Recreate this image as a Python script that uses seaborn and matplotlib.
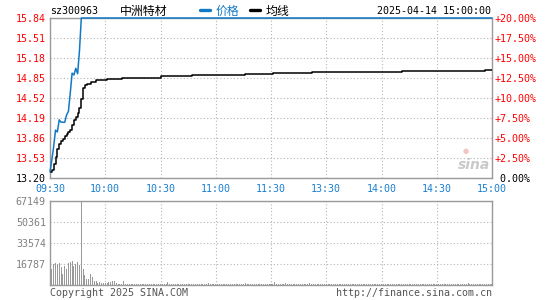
import matplotlib
matplotlib.use("Agg")
import matplotlib.pyplot as plt
import seaborn as sns
from matplotlib.lines import Line2D

# ---------------- data ----------------
stock_code = "sz300963"
stock_name = "中洲特材"
timestamp = "2025-04-14 15:00:00"
base_price = 13.20

price_ticks = [13.20, 13.53, 13.86, 14.19, 14.52, 14.85, 15.18, 15.51, 15.84]
pct_ticks = [0.0, 2.5, 5.0, 7.5, 10.0, 12.5, 15.0, 17.5, 20.0]
vol_ticks = [16787, 33574, 50361, 67149]
time_pos = [0, 30, 60, 90, 120, 150, 180, 210, 240]
time_labels = ["09:30", "10:00", "10:30", "11:00", "11:30",
               "13:30", "14:00", "14:30", "15:00"]

# price (minute index from 09:30, trading minutes only)
price_min = [0, 1, 2, 3, 4, 5, 6, 7, 8, 9, 10, 11, 12, 13, 14, 15, 16, 17, 240]
price_val = [13.30, 13.50, 13.72, 13.99, 13.96, 14.16, 14.12, 14.12, 14.12,
             14.24, 14.30, 14.60, 14.93, 14.90, 15.01, 14.92, 15.30, 15.84,
             15.84]

# average price line
avg_min = [0, 1, 2, 3, 4, 5, 6, 7, 8, 9, 10, 11, 12, 13, 14, 15, 16, 17, 18,
           19, 20, 22, 25, 31, 39, 60, 77, 106, 121, 142, 191, 236, 240]
avg_val = [13.30, 13.33, 13.43, 13.55, 13.68, 13.76, 13.81, 13.85, 13.89,
           13.93, 13.96, 14.00, 14.08, 14.15, 14.21, 14.27, 14.35, 14.50,
           14.68, 14.73, 14.75, 14.78, 14.81, 14.83, 14.855, 14.883, 14.90,
           14.911, 14.927, 14.944, 14.96, 14.977, 14.977]

# volume per minute (241 minutes)
volume = [
    3500, 12500, 17000, 17500, 16500, 17800, 14400, 9000, 15200, 12500,
    17800, 18600, 19200, 15200, 16500, 18600, 16000, 67149, 13000, 8000,
    4500, 4500, 8500, 6400, 3200, 3200, 1900, 2600, 1900, 1300,
    1900, 1300, 2400, 2600, 3200, 3500, 1300, 800, 800, 600,
    3200, 800, 600, 700, 500, 900, 600, 800, 700, 500,
    600, 900, 700, 500, 800, 600, 700, 1000, 600, 500,
    700, 800, 600, 900, 2100, 700, 500, 600, 800, 700,
    600, 500, 900, 700, 600, 800, 500, 700, 600, 900,
    600, 700, 500, 800, 700, 900, 1300, 600, 500, 700,
    800, 600, 700, 500, 600, 900, 700, 600, 800, 500,
    700, 600, 800, 900, 700, 1000, 1700, 800, 600, 700,
    500, 900, 600, 700, 800, 500, 600, 700, 900, 600,
    800, 700, 2500, 900, 700, 600, 800, 700, 1300, 600,
    500, 700, 800, 600, 900, 700, 500, 600, 800, 700,
    600, 1700, 800, 700, 500, 600, 900, 700, 600, 800,
    500, 700, 600, 900, 700, 600, 800, 500, 700, 600,
    800, 700, 600, 900, 500, 700, 600, 800, 700, 500,
    900, 600, 700, 800, 600, 500, 700, 900, 600, 700,
    500, 800, 700, 600, 900, 700, 600, 500, 800, 700,
    600, 900, 500, 700, 800, 600, 700, 500, 900, 600,
    700, 800, 600, 500, 900, 700, 600, 800, 700, 500,
    600, 900, 700, 800, 600, 500, 700, 600, 900, 800,
    600, 700, 500, 800, 900, 700, 600, 1700, 800, 600,
    700, 500, 900, 700, 600, 800, 700, 600, 900, 800,
    1100,
]
vol_min = list(range(len(volume)))

# ---------------- style ----------------
sns.set_theme(style="white")
plt.rcParams["font.family"] = ["DejaVu Sans Mono", "Noto Sans CJK SC"]

BLUE = "#1279c6"
TIME_BLUE = "#1a7fd0"
RED = "#ff0000"
SPINE = "#9a9a9a"
GRID = "#b4b4b4"
FS = 7.2

W, H = 545, 300


def fx(px):
    return px / W


def fy(py):
    return 1 - py / H


fig = plt.figure(figsize=(W / 100, H / 100), dpi=100)
fig.patch.set_facecolor("white")

ax = fig.add_axes([fx(50), fy(178), 442 / W, 160 / H])
axv = fig.add_axes([fx(50), fy(285), 442 / W, 84 / H])

grid_kw = dict(color=GRID, linestyle=(0, (1, 2)), linewidth=0.8)

for a in (ax, axv):
    a.set_facecolor("white")
    a.set_xlim(0, 240)
    for s in a.spines.values():
        s.set_color(SPINE)
        s.set_linewidth(1.0)
    a.tick_params(length=0)
    a.set_axisbelow(True)

# ---- main price panel ----
ax.set_ylim(price_ticks[0], price_ticks[-1])
ax.set_yticks(price_ticks)
ax.set_yticklabels([f"{v:.2f}" for v in price_ticks], fontsize=FS)
for lbl, v in zip(ax.get_yticklabels(), price_ticks):
    lbl.set_color("black" if abs(v - base_price) < 1e-9 else RED)
ax.tick_params(axis="y", pad=3)
ax.set_xticks(time_pos)
ax.set_xticklabels(time_labels, fontsize=FS, color=TIME_BLUE)
ax.tick_params(axis="x", pad=4)
ax.grid(True, **grid_kw)

sns.lineplot(x=avg_min, y=avg_val, ax=ax, color="black", linewidth=1.1,
             drawstyle="steps-post", zorder=3)
sns.lineplot(x=price_min, y=price_val, ax=ax, color=BLUE, linewidth=1.1,
             clip_on=False, zorder=4)
ax.set_xlabel("")
ax.set_ylabel("")
ax.set_xlim(0, 240)
ax.set_ylim(price_ticks[0], price_ticks[-1])

axr = ax.twinx()
axr.set_ylim(pct_ticks[0], pct_ticks[-1])
axr.set_yticks(pct_ticks)
axr.set_yticklabels([(" 0.00%" if p == 0 else f"+{p:.2f}%") for p in pct_ticks],
                    fontsize=FS)
for lbl, p in zip(axr.get_yticklabels(), pct_ticks):
    lbl.set_color("black" if p == 0 else RED)
axr.tick_params(length=0, pad=1.5)
for s in axr.spines.values():
    s.set_visible(False)
axr.grid(False)

# ---- volume panel ----
axv.bar(vol_min, volume, width=0.55, color="#999999", linewidth=0,
        antialiased=False, zorder=2)
axv.set_ylim(0, vol_ticks[-1])
axv.set_yticks(vol_ticks)
axv.set_yticklabels([str(v) for v in vol_ticks], fontsize=FS, color="#808080")
axv.tick_params(axis="y", pad=3)
axv.set_xticks(time_pos)
axv.set_xticklabels([])
axv.grid(True, **grid_kw)

# ---- header ----
ty = fy(11)
fig.text(fx(50), ty, stock_code, fontsize=FS, color="black", ha="left", va="center")
fig.text(fx(120), ty, stock_name, fontsize=8.6, color="black", ha="left",
         va="center", family=["Noto Sans CJK SC"])
fig.add_artist(Line2D([fx(200), fx(210)], [fy(10), fy(10)],
                      transform=fig.transFigure, color=BLUE, linewidth=2.4))
fig.text(fx(216), ty, "价格", fontsize=8.6, color=BLUE, ha="left", va="center",
         family=["Noto Sans CJK SC"])
fig.add_artist(Line2D([fx(250), fx(260)], [fy(10), fy(10)],
                      transform=fig.transFigure, color="black", linewidth=2.4))
fig.text(fx(266), ty, "均线", fontsize=8.6, color="black", ha="left", va="center",
         family=["Noto Sans CJK SC"])
fig.text(fx(491), ty, timestamp, fontsize=FS, color="black", ha="right", va="center")

# ---- watermark ----
fig.text(fx(466), fy(151), "●", fontsize=5, color="#f3c4c4", ha="center", va="center",
         family=["DejaVu Sans"])
fig.text(fx(474), fy(165), "sina", fontsize=10, color="#c9c9c9", ha="center",
         va="center", style="italic", weight="bold", family=["DejaVu Sans"])

# ---- footer ----
fig.text(fx(50), fy(293), "Copyright 2025 SINA.COM", fontsize=FS, color="#555555",
         ha="left", va="center")
fig.text(fx(492), fy(293), "http://finance.sina.com.cn", fontsize=FS,
         color="#555555", ha="right", va="center")

fig.savefig("out.png", dpi=100, facecolor="white")
